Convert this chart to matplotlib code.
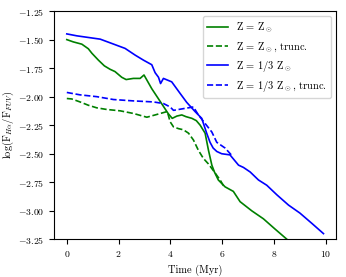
import matplotlib
matplotlib.use("Agg")
import matplotlib.pyplot as plt

plt.rcParams['font.family'] = 'serif'
plt.rcParams['font.serif'] = ['cmr10', 'DejaVu Serif']
plt.rcParams['mathtext.fontset'] = 'cm'
plt.rcParams['axes.formatter.use_mathtext'] = True
plt.rcParams['font.size'] = 7

t_sol = [0, 0.25, 0.58, 0.83, 0.97, 1.22, 1.45, 1.67, 1.86, 2.12, 2.29, 2.57, 2.83, 2.98,
         3.28, 3.6, 3.92, 4.07, 4.25, 4.44, 4.6, 4.83, 5.0, 5.15, 5.34, 5.47, 5.6, 5.7,
         5.85, 6.11, 6.43, 6.69, 7.14, 7.59, 8.04, 8.5]
v_sol = [-1.50, -1.52, -1.54, -1.58, -1.62, -1.68, -1.73, -1.76, -1.78, -1.83, -1.85, -1.84,
         -1.84, -1.81, -1.93, -2.04, -2.15, -2.19, -2.17, -2.16, -2.175, -2.19, -2.21, -2.25,
         -2.32, -2.47, -2.60, -2.66, -2.73, -2.79, -2.83, -2.92, -3.00, -3.07, -3.16, -3.25]

t_sol_tr = [0, 0.19, 0.51, 0.83, 1.16, 1.54, 2.06, 2.57, 3.09, 3.41, 3.88, 3.99, 4.12, 4.31,
            4.5, 4.7, 4.89, 5.08, 5.27, 5.47, 5.73, 5.92, 6.1]
v_sol_tr = [-2.016, -2.02, -2.046, -2.075, -2.098, -2.112, -2.124, -2.147, -2.18, -2.16, -2.13,
            -2.22, -2.265, -2.28, -2.29, -2.32, -2.38, -2.47, -2.54, -2.59, -2.67, -2.73, -2.80]

t_low = [0, 0.39, 1.29, 1.67, 2.25, 2.64, 2.96, 3.28, 3.41, 3.54, 3.62, 3.73, 4.05, 4.37,
         4.63, 4.95, 5.21, 5.4, 5.53, 5.65, 5.79, 5.98, 6.3, 6.63, 6.82, 7.08, 7.40, 7.72,
         8.11, 8.56, 9.0, 9.46, 9.91]
v_low = [-1.45, -1.467, -1.496, -1.528, -1.577, -1.636, -1.68, -1.72, -1.79, -1.83, -1.885,
         -1.84, -1.87, -1.97, -2.05, -2.13, -2.19, -2.32, -2.40, -2.45, -2.48, -2.50, -2.51,
         -2.60, -2.62, -2.66, -2.73, -2.776, -2.86, -2.95, -3.02, -3.11, -3.20]

t_low_tr = [0, 0.51, 1.16, 1.8, 2.57, 3.34, 3.73, 3.99, 4.12, 4.5, 4.89, 5.08, 5.34, 5.6,
            5.79, 6.11, 6.35]
v_low_tr = [-1.963, -1.984, -2.0, -2.025, -2.037, -2.046, -2.06, -2.09, -2.12, -2.105, -2.09,
            -2.16, -2.235, -2.31, -2.40, -2.45, -2.51]

labels = [r'Z = Z$_\odot$', r'Z = Z$_\odot$, trunc.', r'Z = 1/3 Z$_\odot$', r'Z = 1/3 Z$_\odot$, trunc.']

fig = plt.figure(figsize=(3.46, 2.77), dpi=100)
ax = fig.add_axes([0.156, 0.136, 0.816, 0.824])
lw = 1.2
ax.plot(t_sol, v_sol, color='green', lw=lw, label=labels[0])
ax.plot(t_sol_tr, v_sol_tr, color='green', ls='--', lw=lw, label=labels[1])
ax.plot(t_low, v_low, color='blue', lw=lw, label=labels[2])
ax.plot(t_low_tr, v_low_tr, color='blue', ls='--', lw=lw, label=labels[3])

ax.set_ylim(-3.25, -1.25)
ax.set_xticks([0, 2, 4, 6, 8, 10])
ax.set_yticks([-3.25, -3.0, -2.75, -2.5, -2.25, -2.0, -1.75, -1.5, -1.25])
ax.set_xlabel('Time (Myr)', fontsize=7.5)
ax.set_ylabel(r'log(F$_{H\alpha}$/F$_{FUV}$)', fontsize=7.5)
ax.yaxis.set_label_coords(-0.135, 0.5)
ax.legend(loc='upper right', fontsize=7.5)
fig.savefig('out.png', dpi=100)
